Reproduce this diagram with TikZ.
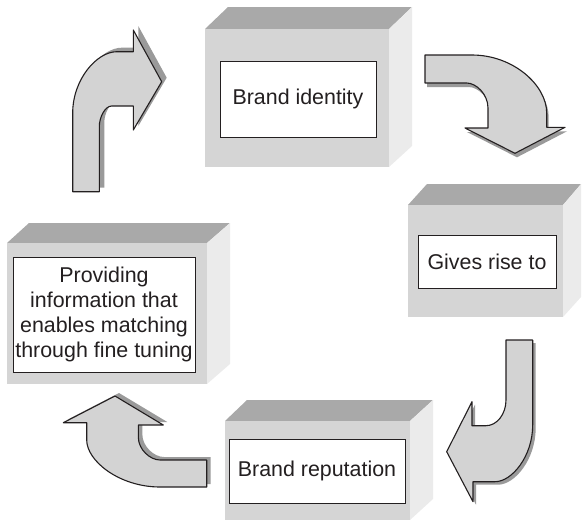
\documentclass[tikz,border=0pt]{standalone}
\usepackage{fontspec}
\setmainfont{Liberation Sans}
\definecolor{topgray}{HTML}{A9A9A9}
\definecolor{frontgray}{HTML}{D5D5D5}
\definecolor{sidegray}{HTML}{EBEBEB}
\definecolor{arrowgray}{HTML}{D3D3D3}
\definecolor{shadowgray}{HTML}{9A9A9A}
\definecolor{inkcol}{HTML}{231F20}
\newcommand\arrowOne[1]{\path[#1] (72.7,191.7) -- (72.7,113) .. controls (72.7,79.2) and (97,51.7) .. (116.7,51.7) -- (133.3,51.7) -- (133.3,30) -- (161.7,81.7) -- (133.3,130) -- (133.3,106) -- (111.7,106) .. controls (104.9,106) and (99.3,117.4) .. (99.3,126.7) -- (99.3,191.7) -- cycle;}
\newcommand\arrowTwo[1]{\path[#1] (425,55) -- (472,55) .. controls (513,55) and (546.7,85) .. (546.7,113) -- (546.7,127.3) -- (565,127.3) -- (515,153.3) -- (465,128) -- (488,128) -- (488,108) .. controls (488,94.2) and (476.2,83) .. (466.7,83) -- (425,83) -- cycle;}
\newcommand\arrowThree[1]{\path[#1] (506,340) -- (532.7,340) -- (532.7,425) .. controls (532.7,456.3) and (511.9,481.7) .. (495,481.7) -- (473,481.7) -- (473,501.7) -- (446.7,451.7) -- (472,401.7) -- (472,425.7) -- (486,425.7) .. controls (497,425.7) and (506,414) .. (506,400) -- cycle;}
\newcommand\arrowFour[1]{\path[#1] (115,396) -- (163.3,425) -- (138.3,425) -- (138.3,437) .. controls (138.3,449.7) and (150.3,460) .. (160,460) -- (206.7,460) -- (206.7,487) -- (160,487) .. controls (119.5,487) and (86.7,461) .. (86.7,440) -- (86.7,422.7) -- (63.3,422.7) -- cycle;}
\begin{document}
\begin{tikzpicture}[x=1pt,y=-1pt,
  topface/.style={fill=topgray},
  frontface/.style={fill=frontgray},
  sideface/.style={fill=sidegray},
  labelbox/.style={draw=inkcol, line width=0.8pt, fill=white, text=inkcol,
    font=\fontsize{21.4}{25}\selectfont, align=center, inner sep=0pt},
  blockarrow/.style={fill=arrowgray, draw=inkcol, line width=1.1pt, line join=round},
  arrowshadow/.style={fill=shadowgray}]
\useasboundingbox (0,0) rectangle (582,523);
% Box 1
\fill[topface] (205,29) -- (228,7) -- (412,7) -- (389,29) -- cycle;
\fill[sideface] (389,29) -- (412,7) -- (412,146) -- (389,167) -- cycle;
\fill[frontface] (205,29) rectangle (389,167);
\node[labelbox, minimum width=156pt, minimum height=76pt] (identity) at (298,99) {Brand identity};
% Box 2
\fill[topface] (408,205) -- (427,184) -- (581,184) -- (563,205) -- cycle;
\fill[sideface] (563,205) -- (581,184) -- (581,297) -- (563,317) -- cycle;
\fill[frontface] (408,205) rectangle (563,317);
\node[labelbox, minimum width=138pt, minimum height=53pt] (rise) at (487,261.5) {Gives rise to};
% Box 3
\fill[topface] (225,421) -- (247,400) -- (433,400) -- (410,421) -- cycle;
\fill[sideface] (410,421) -- (433,400) -- (433,499) -- (410,520) -- cycle;
\fill[frontface] (225,421) rectangle (410,520);
\node[labelbox, minimum width=176pt, minimum height=64pt] (reputation) at (317,471) {Brand reputation};
% Box 4
\fill[topface] (7,243) -- (29,223) -- (230,223) -- (207,243) -- cycle;
\fill[sideface] (207,243) -- (230,223) -- (230,364) -- (207,384) -- cycle;
\fill[frontface] (7,243) rectangle (207,384);
\node[labelbox, minimum width=182pt, minimum height=115pt] (info) at (104,314.5) {Providing\\information that\\enables matching\\through fine tuning};
% Arrows with shadows
\arrowOne{arrowshadow, shift={(5,-4)}}
\arrowOne{blockarrow}
\arrowTwo{arrowshadow, shift={(2,4)}}
\arrowTwo{blockarrow}
\arrowThree{arrowshadow, shift={(3,3)}}
\arrowThree{blockarrow}
\arrowFour{arrowshadow, shift={(4,-3)}}
\arrowFour{blockarrow}
\end{tikzpicture}
\end{document}
